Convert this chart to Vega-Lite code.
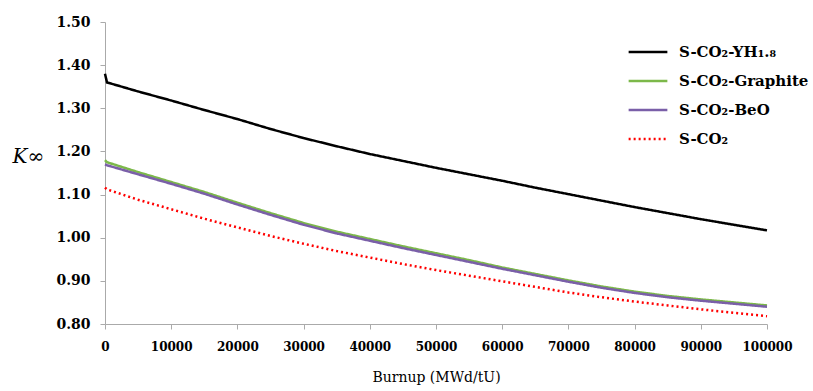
{
  "$schema": "https://vega.github.io/schema/vega-lite/v6.json",
  "width": 662,
  "height": 302,
  "autosize": {"type": "none"},
  "padding": {"left": 105, "top": 22, "right": 46, "bottom": 67},
  "background": "white",
  "config": {
    "view": {"stroke": null},
    "font": "DejaVu Serif",
    "text": {"font": "DejaVu Serif"},
    "axis": {"labelFont": "DejaVu Serif", "titleFont": "DejaVu Serif"},
    "legend": {"labelFont": "DejaVu Serif"}
  },
  "data": {
    "values": [
      {"burnup": 0, "k": 1.380, "series": "S-CO₂-YH₁.₈"},
      {"burnup": 300, "k": 1.360, "series": "S-CO₂-YH₁.₈"},
      {"burnup": 5000, "k": 1.339, "series": "S-CO₂-YH₁.₈"},
      {"burnup": 10000, "k": 1.318, "series": "S-CO₂-YH₁.₈"},
      {"burnup": 15000, "k": 1.296, "series": "S-CO₂-YH₁.₈"},
      {"burnup": 20000, "k": 1.275, "series": "S-CO₂-YH₁.₈"},
      {"burnup": 25000, "k": 1.252, "series": "S-CO₂-YH₁.₈"},
      {"burnup": 30000, "k": 1.231, "series": "S-CO₂-YH₁.₈"},
      {"burnup": 35000, "k": 1.212, "series": "S-CO₂-YH₁.₈"},
      {"burnup": 40000, "k": 1.194, "series": "S-CO₂-YH₁.₈"},
      {"burnup": 45000, "k": 1.178, "series": "S-CO₂-YH₁.₈"},
      {"burnup": 50000, "k": 1.162, "series": "S-CO₂-YH₁.₈"},
      {"burnup": 55000, "k": 1.147, "series": "S-CO₂-YH₁.₈"},
      {"burnup": 60000, "k": 1.132, "series": "S-CO₂-YH₁.₈"},
      {"burnup": 65000, "k": 1.116, "series": "S-CO₂-YH₁.₈"},
      {"burnup": 70000, "k": 1.101, "series": "S-CO₂-YH₁.₈"},
      {"burnup": 75000, "k": 1.086, "series": "S-CO₂-YH₁.₈"},
      {"burnup": 80000, "k": 1.071, "series": "S-CO₂-YH₁.₈"},
      {"burnup": 85000, "k": 1.057, "series": "S-CO₂-YH₁.₈"},
      {"burnup": 90000, "k": 1.043, "series": "S-CO₂-YH₁.₈"},
      {"burnup": 95000, "k": 1.030, "series": "S-CO₂-YH₁.₈"},
      {"burnup": 100000, "k": 1.017, "series": "S-CO₂-YH₁.₈"},

      {"burnup": 0, "k": 1.180, "series": "S-CO₂-Graphite"},
      {"burnup": 300, "k": 1.175, "series": "S-CO₂-Graphite"},
      {"burnup": 5000, "k": 1.152, "series": "S-CO₂-Graphite"},
      {"burnup": 10000, "k": 1.129, "series": "S-CO₂-Graphite"},
      {"burnup": 15000, "k": 1.106, "series": "S-CO₂-Graphite"},
      {"burnup": 20000, "k": 1.081, "series": "S-CO₂-Graphite"},
      {"burnup": 25000, "k": 1.057, "series": "S-CO₂-Graphite"},
      {"burnup": 30000, "k": 1.034, "series": "S-CO₂-Graphite"},
      {"burnup": 35000, "k": 1.014, "series": "S-CO₂-Graphite"},
      {"burnup": 40000, "k": 0.997, "series": "S-CO₂-Graphite"},
      {"burnup": 45000, "k": 0.980, "series": "S-CO₂-Graphite"},
      {"burnup": 50000, "k": 0.964, "series": "S-CO₂-Graphite"},
      {"burnup": 55000, "k": 0.948, "series": "S-CO₂-Graphite"},
      {"burnup": 60000, "k": 0.931, "series": "S-CO₂-Graphite"},
      {"burnup": 65000, "k": 0.916, "series": "S-CO₂-Graphite"},
      {"burnup": 70000, "k": 0.901, "series": "S-CO₂-Graphite"},
      {"burnup": 75000, "k": 0.887, "series": "S-CO₂-Graphite"},
      {"burnup": 80000, "k": 0.875, "series": "S-CO₂-Graphite"},
      {"burnup": 85000, "k": 0.865, "series": "S-CO₂-Graphite"},
      {"burnup": 90000, "k": 0.857, "series": "S-CO₂-Graphite"},
      {"burnup": 95000, "k": 0.850, "series": "S-CO₂-Graphite"},
      {"burnup": 100000, "k": 0.843, "series": "S-CO₂-Graphite"},

      {"burnup": 0, "k": 1.170, "series": "S-CO₂-BeO"},
      {"burnup": 300, "k": 1.168, "series": "S-CO₂-BeO"},
      {"burnup": 5000, "k": 1.147, "series": "S-CO₂-BeO"},
      {"burnup": 10000, "k": 1.125, "series": "S-CO₂-BeO"},
      {"burnup": 15000, "k": 1.102, "series": "S-CO₂-BeO"},
      {"burnup": 20000, "k": 1.077, "series": "S-CO₂-BeO"},
      {"burnup": 25000, "k": 1.053, "series": "S-CO₂-BeO"},
      {"burnup": 30000, "k": 1.030, "series": "S-CO₂-BeO"},
      {"burnup": 35000, "k": 1.010, "series": "S-CO₂-BeO"},
      {"burnup": 40000, "k": 0.993, "series": "S-CO₂-BeO"},
      {"burnup": 45000, "k": 0.976, "series": "S-CO₂-BeO"},
      {"burnup": 50000, "k": 0.960, "series": "S-CO₂-BeO"},
      {"burnup": 55000, "k": 0.944, "series": "S-CO₂-BeO"},
      {"burnup": 60000, "k": 0.928, "series": "S-CO₂-BeO"},
      {"burnup": 65000, "k": 0.913, "series": "S-CO₂-BeO"},
      {"burnup": 70000, "k": 0.898, "series": "S-CO₂-BeO"},
      {"burnup": 75000, "k": 0.884, "series": "S-CO₂-BeO"},
      {"burnup": 80000, "k": 0.872, "series": "S-CO₂-BeO"},
      {"burnup": 85000, "k": 0.862, "series": "S-CO₂-BeO"},
      {"burnup": 90000, "k": 0.854, "series": "S-CO₂-BeO"},
      {"burnup": 95000, "k": 0.847, "series": "S-CO₂-BeO"},
      {"burnup": 100000, "k": 0.840, "series": "S-CO₂-BeO"},

      {"burnup": 0, "k": 1.116, "series": "S-CO₂"},
      {"burnup": 300, "k": 1.112, "series": "S-CO₂"},
      {"burnup": 5000, "k": 1.088, "series": "S-CO₂"},
      {"burnup": 10000, "k": 1.066, "series": "S-CO₂"},
      {"burnup": 15000, "k": 1.044, "series": "S-CO₂"},
      {"burnup": 20000, "k": 1.024, "series": "S-CO₂"},
      {"burnup": 25000, "k": 1.004, "series": "S-CO₂"},
      {"burnup": 30000, "k": 0.986, "series": "S-CO₂"},
      {"burnup": 35000, "k": 0.969, "series": "S-CO₂"},
      {"burnup": 40000, "k": 0.954, "series": "S-CO₂"},
      {"burnup": 45000, "k": 0.939, "series": "S-CO₂"},
      {"burnup": 50000, "k": 0.925, "series": "S-CO₂"},
      {"burnup": 55000, "k": 0.912, "series": "S-CO₂"},
      {"burnup": 60000, "k": 0.899, "series": "S-CO₂"},
      {"burnup": 65000, "k": 0.886, "series": "S-CO₂"},
      {"burnup": 70000, "k": 0.873, "series": "S-CO₂"},
      {"burnup": 75000, "k": 0.862, "series": "S-CO₂"},
      {"burnup": 80000, "k": 0.852, "series": "S-CO₂"},
      {"burnup": 85000, "k": 0.843, "series": "S-CO₂"},
      {"burnup": 90000, "k": 0.834, "series": "S-CO₂"},
      {"burnup": 95000, "k": 0.826, "series": "S-CO₂"},
      {"burnup": 100000, "k": 0.818, "series": "S-CO₂"}
    ]
  },
  "mark": {"type": "line", "strokeWidth": 2.5},
  "encoding": {
    "x": {
      "field": "burnup",
      "type": "quantitative",
      "scale": {"domain": [0, 100000], "nice": false},
      "axis": {
        "values": [0, 10000, 20000, 30000, 40000, 50000, 60000, 70000, 80000, 90000, 100000],
        "format": "d",
        "grid": false,
        "domainColor": "#aaaaaa",
        "tickColor": "#aaaaaa",
        "tickSize": 5,
        "labelPadding": 12,
        "labelFontSize": 12,
        "labelFontWeight": "bold",
        "labelColor": "#000000",
        "labelFlush": false,
        "title": "Burnup (MWd/tU)",
        "titleFontSize": 14,
        "titleFontWeight": "normal",
        "titleColor": "#000000",
        "titlePadding": 18
      }
    },
    "y": {
      "field": "k",
      "type": "quantitative",
      "scale": {"domain": [0.8, 1.5], "nice": false, "zero": false},
      "axis": {
        "values": [0.8, 0.9, 1.0, 1.1, 1.2, 1.3, 1.4, 1.5],
        "format": ".2f",
        "grid": false,
        "domainColor": "#aaaaaa",
        "tickColor": "#aaaaaa",
        "tickSize": 5,
        "labelPadding": 10,
        "labelFontSize": 14,
        "labelFontWeight": "bold",
        "labelColor": "#000000",
        "labelFlush": false,
        "title": "K∞",
        "titleAngle": 0,
        "titleFontSize": 20,
        "titleFontStyle": "italic",
        "titleFontWeight": "normal",
        "titleColor": "#000000",
        "titleAlign": "left",
        "titleBaseline": "middle",
        "titleX": -93,
        "titleY": 134
      }
    },
    "color": {
      "field": "series",
      "type": "nominal",
      "scale": {
        "domain": ["S-CO₂-YH₁.₈", "S-CO₂-Graphite", "S-CO₂-BeO", "S-CO₂"],
        "range": ["#000000", "#7cb84a", "#7a5fa8", "#ff0000"]
      },
      "sort": null,
      "legend": {
        "title": null,
        "orient": "none",
        "legendX": 522,
        "legendY": 9,
        "symbolType": "stroke",
        "symbolSize": 1500,
        "symbolStrokeWidth": 2.5,
        "labelFontSize": 15,
        "labelFontWeight": "bold",
        "labelColor": "#000000",
        "labelOffset": 10,
        "rowPadding": -12
      }
    },
    "strokeDash": {
      "field": "series",
      "type": "nominal",
      "scale": {
        "domain": ["S-CO₂-YH₁.₈", "S-CO₂-Graphite", "S-CO₂-BeO", "S-CO₂"],
        "range": [[1, 0], [1, 0], [1, 0], [2, 3]]
      },
      "legend": null
    }
  }
}
